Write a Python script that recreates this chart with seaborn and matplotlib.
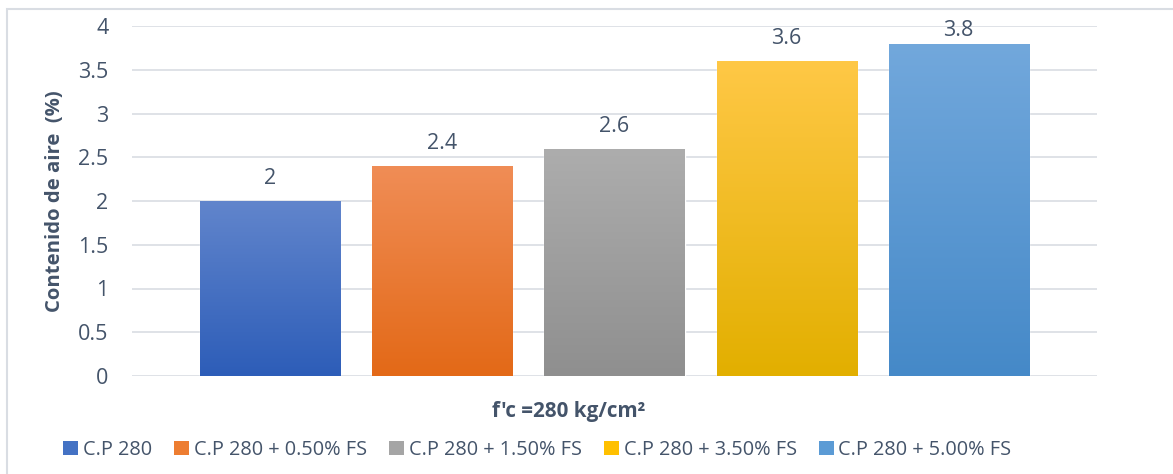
import numpy as np
import seaborn as sns
import matplotlib.pyplot as plt
from matplotlib.colors import LinearSegmentedColormap
from matplotlib.patches import Patch, Rectangle

# data
series = ['C.P 280', 'C.P 280 + 0.50% FS', 'C.P 280 + 1.50% FS',
          'C.P 280 + 3.50% FS', 'C.P 280 + 5.00% FS']
air_content = [2.0, 2.4, 2.6, 3.6, 3.8]
value_labels = ['2', '2.4', '2.6', '3.6', '3.8']
y_ticks = [0, 0.5, 1, 1.5, 2, 2.5, 3, 3.5, 4]
y_tick_labels = ['0', '0.5', '1', '1.5', '2', '2.5', '3', '3.5', '4']

# colours (legend colour, gradient top, gradient bottom)
base_colors = ['#4472C4', '#ED7D31', '#A5A5A5', '#FFC000', '#5B9BD5']
top_colors = ['#6185CC', '#F08D56', '#ADADAD', '#FFC846', '#72A8DC']
bottom_colors = ['#2D5DB8', '#E36917', '#8F8F8F', '#E2AF00', '#4589C8']

text_col = '#44546A'
grid_col = '#D9DDE3'

sns.set_theme(style='white')
plt.rcParams['font.family'] = ['Open Sans', 'DejaVu Sans']

fig = plt.figure(figsize=(11.73, 4.74), dpi=100)
ax = fig.add_axes([132 / 1173, 98 / 474, 965 / 1173, 350 / 474])

sns.barplot(x=series, y=air_content, hue=series, palette=base_colors,
            width=0.814, legend=False, ax=ax, zorder=2)

# gradient fill clipped to each bar
for i, p in enumerate(ax.patches):
    cmap = LinearSegmentedColormap.from_list('g%d' % i, [bottom_colors[i], top_colors[i]])
    grad = np.linspace(0, 1, 256).reshape(-1, 1)
    x0, w, h = p.get_x(), p.get_width(), p.get_height()
    im = ax.imshow(grad, cmap=cmap, origin='lower', aspect='auto',
                   extent=[x0, x0 + w, 0, h], zorder=3)
    im.set_clip_path(p)

# last label is squeezed under the top of the plot area, like in excel
label_pads = [8.5, 8.5, 8.5, 8.5, 1.5]
for cont, lab, pad in zip(ax.containers, value_labels, label_pads):
    ax.bar_label(cont, labels=[lab], padding=pad, fontsize=15.5, color=text_col)

ax.set_xlim(-0.805, 4.805)
ax.set_ylim(0, 4)
ax.set_xticks([])
ax.set_yticks(y_ticks)
ax.set_yticklabels(y_tick_labels, fontsize=15.5, color=text_col)
ax.tick_params(axis='y', length=0, pad=17)
ax.grid(axis='y', color=grid_col, linewidth=1.2, zorder=0)
ax.set_axisbelow(True)
for s in ax.spines.values():
    s.set_visible(False)

ax.set_ylabel('Contenido de aire  (%)', fontsize=14.6, fontweight='bold', color=text_col)
ax.yaxis.set_label_coords(-0.0694, 0.5)

fig.text(569 / 1173, 1 - 411 / 474, "f'c =280 kg/cm²", ha='center', va='center',
         fontsize=14.9, fontweight='bold', color=text_col)

handles = [Patch(facecolor=c, edgecolor='none') for c in base_colors]
fig.legend(handles, series, loc='center', bbox_to_anchor=(537.5 / 1173, 1 - 450 / 474),
           ncol=5, frameon=False, fontsize=14.3, labelcolor=text_col,
           handlelength=0.75, handleheight=0.75, handletextpad=0.25, columnspacing=1.1)

# chart border
fig.add_artist(Rectangle((7 / 1173, -0.1), 1.2, 1 - 9 / 474 + 0.1, transform=fig.transFigure,
                         fill=False, edgecolor='#D9DDE3', linewidth=1.5))

fig.savefig('out.png', dpi=100)
